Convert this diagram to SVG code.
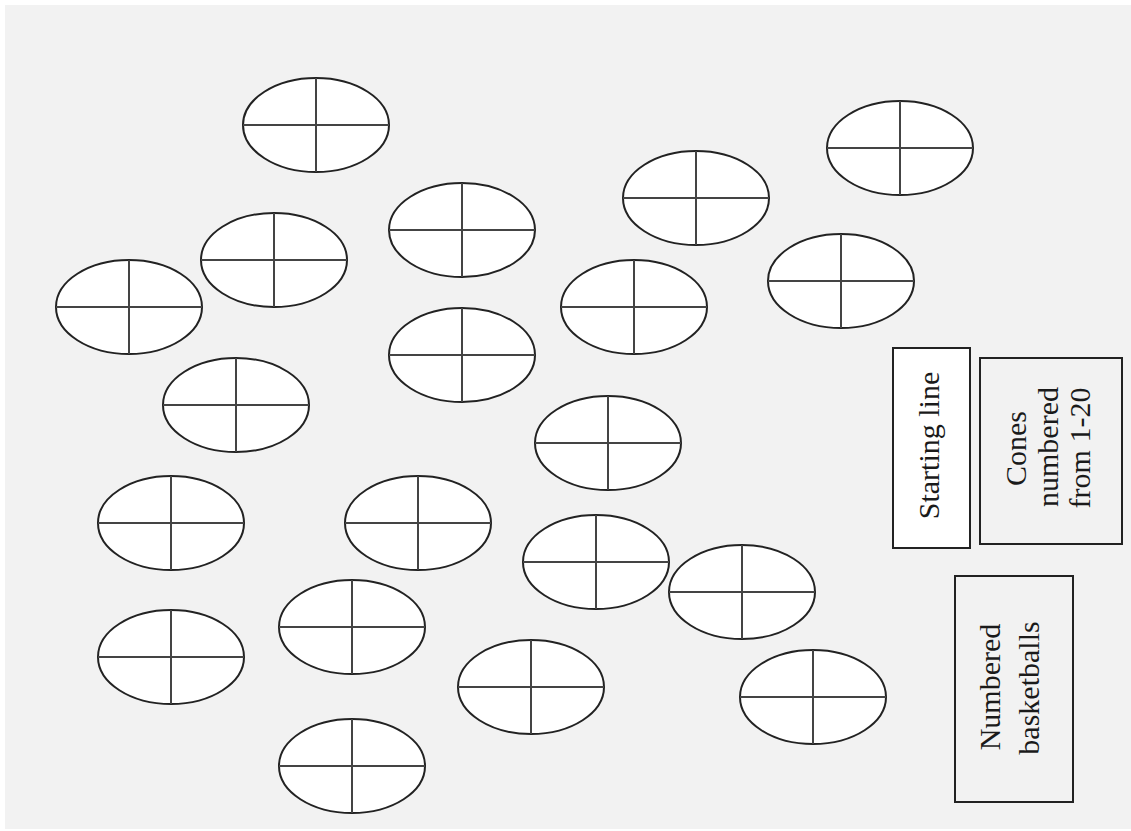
<svg xmlns="http://www.w3.org/2000/svg" width="1131" height="831" viewBox="0 0 1131 831">
<defs>
<style>
.ce{fill:#ffffff;stroke:#222;stroke-width:2}
.cl{stroke:#444;stroke-width:2}
.box{stroke:#222;stroke-width:2}
.lbl{font-family:"Liberation Serif","Times New Roman",serif;font-size:30px;fill:#1a1a1a;text-anchor:middle}
</style>
<g id="cone">
<ellipse class="ce" cx="0" cy="0" rx="73" ry="47"/>
<line class="cl" x1="-73" y1="0" x2="73" y2="0"/>
<line class="cl" x1="0" y1="-47" x2="0" y2="47"/>
</g>
</defs>
<rect x="0" y="0" width="1131" height="831" fill="#ffffff"/>
<rect x="5" y="5" width="1126" height="824" fill="#f2f2f2"/>
<g id="connectors"></g>
<g id="cones">
<use id="cone1" href="#cone" x="316" y="125"/>
<use id="cone2" href="#cone" x="900" y="148"/>
<use id="cone3" href="#cone" x="696" y="198"/>
<use id="cone4" href="#cone" x="462" y="230"/>
<use id="cone5" href="#cone" x="274" y="260"/>
<use id="cone6" href="#cone" x="129" y="307"/>
<use id="cone7" href="#cone" x="634" y="307"/>
<use id="cone8" href="#cone" x="841" y="281"/>
<use id="cone9" href="#cone" x="462" y="355"/>
<use id="cone10" href="#cone" x="236" y="405"/>
<use id="cone11" href="#cone" x="608" y="443"/>
<use id="cone12" href="#cone" x="171" y="523"/>
<use id="cone13" href="#cone" x="418" y="523"/>
<use id="cone14" href="#cone" x="596" y="562"/>
<use id="cone15" href="#cone" x="742" y="592"/>
<use id="cone16" href="#cone" x="352" y="627"/>
<use id="cone17" href="#cone" x="171" y="657"/>
<use id="cone18" href="#cone" x="531" y="687"/>
<use id="cone19" href="#cone" x="813" y="697"/>
<use id="cone20" href="#cone" x="352" y="766"/>
</g>
<g id="starting-line">
<rect class="box" x="893" y="348" width="77" height="200" fill="#ffffff"/>
<text class="lbl" transform="translate(939,445.5) rotate(-90)">Starting line</text>
</g>
<g id="cones-numbered">
<rect class="box" x="980" y="358" width="142" height="186" fill="#f2f2f2"/>
<text class="lbl" transform="translate(1026,448.5) rotate(-90)">Cones</text>
<text class="lbl" transform="translate(1058,447) rotate(-90)">numbered</text>
<text class="lbl" transform="translate(1090,448) rotate(-90)">from 1-20</text>
</g>
<g id="numbered-basketballs">
<rect class="box" x="955" y="576" width="118" height="226" fill="#f2f2f2"/>
<text class="lbl" transform="translate(1000,687) rotate(-90)">Numbered</text>
<text class="lbl" transform="translate(1039,688) rotate(-90)">basketballs</text>
</g>
</svg>
